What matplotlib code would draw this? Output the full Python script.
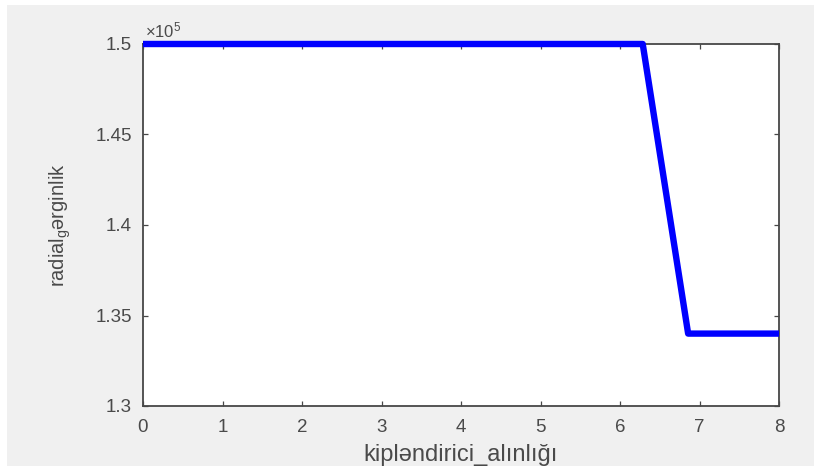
import numpy as np
import matplotlib
matplotlib.use('Agg')
import matplotlib.pyplot as plt
from matplotlib.ticker import FuncFormatter
from matplotlib.patches import Rectangle

# Data: modulator thickness vs radial stress
x_vals = [0.0, 0.5714, 1.1429, 1.7143, 2.2857, 2.8571, 3.4286, 4.0,
          4.5714, 5.1429, 5.7143, 6.2857, 6.8571, 7.4286, 8.0]
y_vals = [1.5e5, 1.5e5, 1.5e5, 1.5e5, 1.5e5, 1.5e5, 1.5e5, 1.5e5,
          1.5e5, 1.5e5, 1.5e5, 1.5e5, 1.34e5, 1.34e5, 1.34e5]
x_ticks = [0, 1, 2, 3, 4, 5, 6, 7, 8]
y_ticks = [1.3e5, 1.35e5, 1.4e5, 1.45e5, 1.5e5]

plt.rcParams['font.family'] = ['Liberation Sans', 'DejaVu Sans']
plt.rcParams['mathtext.fontset'] = 'custom'
plt.rcParams['mathtext.rm'] = 'Liberation Sans'
plt.rcParams['mathtext.it'] = 'Liberation Sans'

fig = plt.figure(figsize=(8.14, 4.66), dpi=100, facecolor='white')
# grey window background with a thin white margin on top and left
fig.patches.append(Rectangle((7 / 814, 0), 1, 1 - 5 / 466, transform=fig.transFigure,
                             facecolor='#f0f0f0', edgecolor='none', zorder=-10))

ax = fig.add_axes([143 / 814, 1 - 406 / 466, 636 / 814, 362 / 466])
ax.set_facecolor('white')

ax.plot(x_vals, y_vals, color='#0000ff', linewidth=4.6, solid_joinstyle='round',
        solid_capstyle='butt', clip_on=False, zorder=3)

ax.set_xlim(0, 8)
ax.set_ylim(1.3e5, 1.5e5)
ax.set_xticks(x_ticks)
ax.set_yticks(y_ticks)
ax.yaxis.set_major_formatter(FuncFormatter(lambda v, p: '%g' % (v / 1e5)))

axis_col = '#474747'
for s in ax.spines.values():
    s.set_color(axis_col)
    s.set_linewidth(1.3)
ax.tick_params(direction='in', length=3.5, width=0.9, color=axis_col,
               labelcolor='#4a4a4a', labelsize=13.5, top=True, right=True)
ax.tick_params(axis='x', pad=9)
ax.tick_params(axis='y', pad=8)

ax.text(0.003, 1.037, r'$\times 10^5$', transform=ax.transAxes, fontsize=12,
        color='#4a4a4a', ha='left', va='center')

ax.set_xlabel('kiplәndirici_alınlığı', fontsize=17, color='#4a4a4a')
ax.set_ylabel(r'radial$_\mathrm{g}$ərginlik', fontsize=14.5, color='#4a4a4a')
ax.xaxis.set_label_coords(0.5, -0.135)
ax.xaxis.label.set_va('center')
ax.yaxis.set_label_coords(-0.13, 0.5)
ax.yaxis.label.set_va('center')

fig.savefig('out.png', dpi=100, facecolor=fig.get_facecolor())
